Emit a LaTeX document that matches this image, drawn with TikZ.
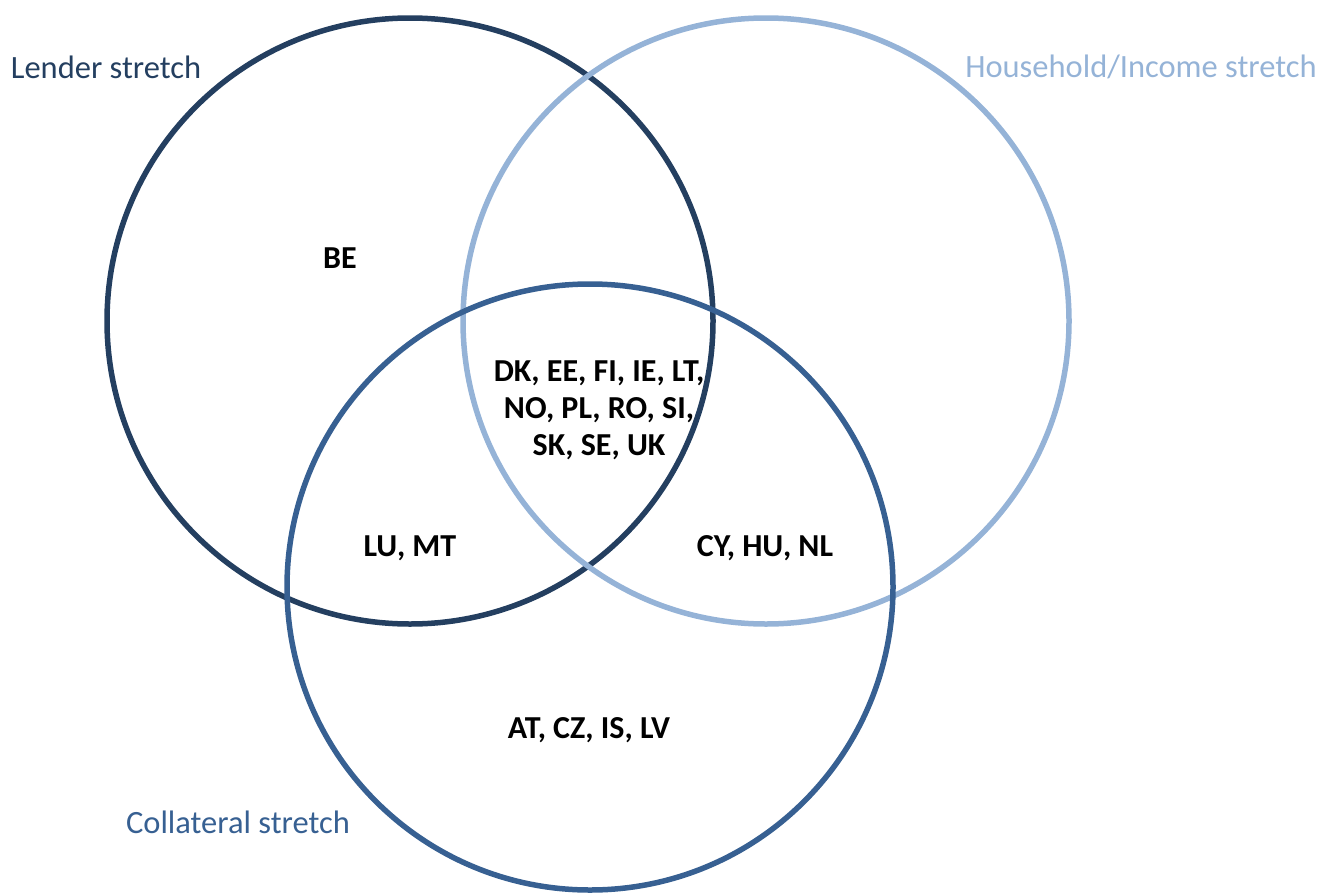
\documentclass[tikz,border=0pt]{standalone}
\usepackage{fontspec}
\setmainfont{Carlito}
\definecolor{lendercol}{HTML}{243F60}
\definecolor{housecol}{HTML}{95B3D7}
\definecolor{collcol}{HTML}{376092}
\begin{document}
\begin{tikzpicture}[x=1pt,y=-1pt,
  ring/.style={line width=5.5pt},
  setlabel/.style={font=\fontsize{32.5}{37}\selectfont, inner sep=0pt, anchor=center},
  country/.style={font=\fontsize{32}{37}\selectfont\bfseries, inner sep=0pt, align=center, anchor=center, text=black}]
\useasboundingbox (0,0) rectangle (1319,894);
\draw[ring, lendercol] (410,321) circle[radius=303];
\draw[ring, housecol] (766,321) circle[radius=303];
\draw[ring, collcol] (590,587) circle[radius=303];
\node[setlabel, text=lendercol] (lender) at (106,67) {Lender stretch};
\node[setlabel, text=housecol] (house) at (1141,67) {Household/Income stretch};
\node[setlabel, text=collcol] (coll) at (238,822) {Collateral stretch};
\node[country] (be) at (340,258) {BE};
\node[country] (all) at (599,410) {DK, EE, FI, IE, LT,\\NO, PL, RO, SI,\\SK, SE, UK};
\node[country] (lc) at (410,548) {LU, MT};
\node[country] (hc) at (765,548) {CY, HU, NL};
\node[country] (c) at (589,730) {AT, CZ, IS, LV};
\end{tikzpicture}
\end{document}
